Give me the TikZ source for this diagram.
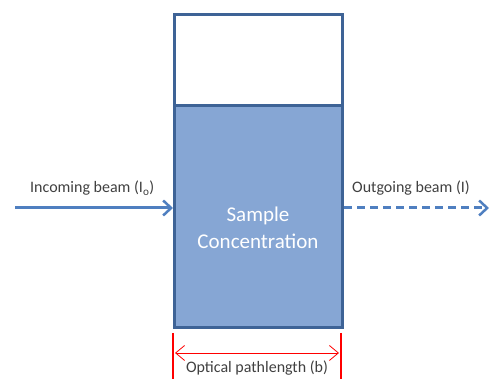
\documentclass[tikz,border=0pt]{standalone}
\usepackage{fontspec}
\setmainfont{Carlito}
\usetikzlibrary{arrows.meta}
\definecolor{boxfill}{HTML}{86A6D4}
\definecolor{boxline}{HTML}{3E6396}
\definecolor{beam}{HTML}{4F7FC0}
\definecolor{txt}{HTML}{404040}
\definecolor{redline}{HTML}{FF0000}
\begin{document}
\begin{tikzpicture}[x=1pt,y=-1pt,
  lbl/.style={text=txt,font=\fontsize{16}{18}\selectfont,inner sep=0pt},
  beamline/.style={beam,line width=3pt,-{Straight Barb[length=8pt,width=15pt,line width=2.5pt]}},
  boxstyle/.style={draw=boxline,line width=3pt}]
\useasboundingbox (0,0) rectangle (491,379);
\node[boxstyle,fill=white,minimum width=168pt,minimum height=91pt,anchor=north west,inner sep=0pt] (top) at (173,13) {};
\node[boxstyle,fill=boxfill,minimum width=168pt,minimum height=222pt,anchor=north west,inner sep=0pt,
  text=white,font=\fontsize{21}{27}\selectfont,align=center] (sample) at (173,104) {};
\node[text=white,font=\fontsize{21}{27}\selectfont,align=center,inner sep=0pt] (stext) at (258,228) {Sample\\Concentration};
\coordinate (inStart) at (15,208);
\coordinate (outEnd) at (489,208);
\draw[beamline] (inStart) -- (sample.west |- inStart);
\draw[beamline,dashed,dash pattern=on 8pt off 5pt] (sample.east |- outEnd) -- (outEnd);
\node[lbl,anchor=base west] (inlbl) at (30,193) {Incoming beam (I\textsubscript{o})};
\node[lbl,anchor=base west] (outlbl) at (352,193) {Outgoing beam (I)};
\coordinate (rl1) at (173,333);
\coordinate (rl1b) at (173,379);
\coordinate (rl2) at (341,333);
\coordinate (rl2b) at (341,379);
\draw[redline,line width=2.5pt] (rl1) -- (rl1b);
\draw[redline,line width=2.5pt] (rl2) -- (rl2b);
\coordinate (ra) at (175,353);
\coordinate (rb) at (339,353);
\draw[redline,line width=0.8pt,{Straight Barb[length=9pt,width=15pt]}-{Straight Barb[length=9pt,width=15pt]}] (ra) -- (rb);
\node[lbl,anchor=base] (plbl) at (257,373) {Optical pathlength (b)};
\end{tikzpicture}
\end{document}
